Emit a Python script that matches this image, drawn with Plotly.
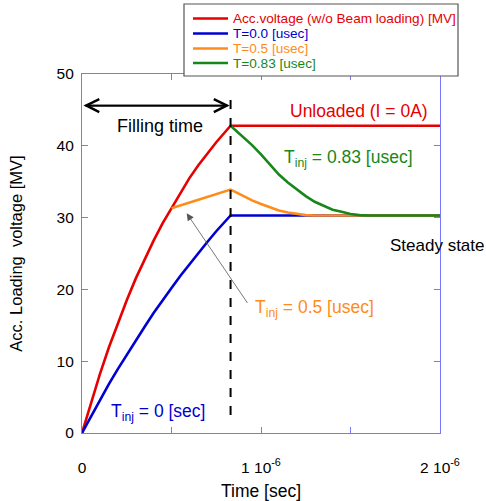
import plotly.graph_objects as go

# ---- data (time in usec, voltage in MV) ----
t_red = [0.0, 0.05, 0.1, 0.15, 0.2, 0.25, 0.3, 0.35, 0.4, 0.45, 0.5, 0.55, 0.6, 0.65,
         0.7, 0.75, 0.83, 2.0]
v_red = [0.0, 4.2, 8.2, 11.9, 15.3, 18.5, 21.5, 24.2, 26.8, 29.2, 31.3, 33.5, 35.5, 37.3,
         38.9, 40.5, 42.8, 42.8]

t_blue = [0.0, 0.05, 0.1, 0.15, 0.2, 0.25, 0.3, 0.35, 0.4, 0.45, 0.5, 0.55, 0.6, 0.65,
          0.7, 0.75, 0.83, 2.0]
v_blue = [0.0, 2.3, 4.6, 6.8, 8.9, 10.9, 12.9, 14.8, 16.7, 18.5, 20.2, 21.9, 23.5, 25.1,
          26.6, 28.1, 30.3, 30.3]

t_orange = [0.5, 0.6, 0.7, 0.83, 0.87, 0.9, 0.95, 1.0, 1.05, 1.1, 1.15, 1.2, 1.25, 1.3, 2.0]
v_orange = [31.3, 32.1, 32.9, 33.9, 33.4, 33.0, 32.4, 31.9, 31.4, 31.0, 30.7, 30.5, 30.35,
            30.3, 30.3]

t_green = [0.83, 0.87, 0.9, 0.95, 1.0, 1.05, 1.1, 1.15, 1.2, 1.25, 1.3, 1.35, 1.4, 1.45,
           1.5, 1.55, 1.6, 2.0]
v_green = [42.8, 41.9, 41.3, 40.1, 38.8, 37.4, 36.0, 34.9, 33.9, 33.0, 32.2, 31.6, 31.1,
           30.8, 30.5, 30.35, 30.3, 30.3]

series_names = ["Acc.voltage (w/o Beam loading) [MV]", "T=0.0 [usec]",
                "T=0.5 [usec]", "T=0.83 [usec]"]
series_colors = ["#e60000", "#0000d0", "#ff8c1a", "#17871a"]

x_tickvals = [0, 1e-6, 2e-6]
x_ticktext = ["0", "1 10<sup>-6</sup>", "2 10<sup>-6</sup>"]
y_tickvals = [0, 10, 20, 30, 40, 50]

t_fill = 0.83  # usec
US = 1e-6
AX = "#7878ff"
FONT = "Liberation Sans, Arial, sans-serif"

fig = go.Figure()
data_sets = [(t_red, v_red), (t_blue, v_blue), (t_orange, v_orange), (t_green, v_green)]
for (tt, vv), nm, col in zip(data_sets, series_names, series_colors):
    fig.add_trace(go.Scatter(x=[t * US for t in tt], y=vv, mode="lines", name=nm,
                             line=dict(color=col, width=2.6),
                             showlegend=False, hoverinfo="skip"))

fig.update_layout(
    width=486, height=501,
    margin=dict(l=82, r=46, t=74, b=68),
    paper_bgcolor="white", plot_bgcolor="white",
    font=dict(family=FONT, size=15, color="black"),
    xaxis=dict(range=[0, 2e-6], tickvals=x_tickvals, ticktext=x_ticktext, automargin=False,
               showgrid=False, zeroline=False, showline=True, linecolor=AX, linewidth=1.2,
               mirror="ticks", ticks="inside", tickcolor=AX, ticklen=6, tickwidth=1.2,
               minor=dict(dtick=0.5e-6, tick0=0, ticks="inside", ticklen=6, tickcolor=AX,
                          tickwidth=1.2, showgrid=False),
               ticklabelstandoff=20, tickfont=dict(size=15.5),
               title=dict(text="Time [sec]", font=dict(size=17.5), standoff=11)),
    yaxis=dict(range=[0, 50], tickvals=y_tickvals, automargin=False,
               showgrid=False, zeroline=False, showline=True, linecolor=AX, linewidth=1.2,
               mirror="ticks", ticks="inside", tickcolor=AX, ticklen=6, tickwidth=1.2,
               ticklabelstandoff=4, tickfont=dict(size=15.5),
               title=dict(text="Acc. Loading  voltage [MV]", font=dict(size=16.5), standoff=29)),
)

# dashed filling-time line
fig.add_shape(type="line", x0=t_fill * US, x1=t_fill * US, y0=2.5, y1=47.4,
              line=dict(color="black", width=2, dash="dash"))

# double arrow "Filling time"
for xa, xb in [(0.01 * US, t_fill * US - 0.005 * US), (t_fill * US - 0.01 * US, 0.008 * US)]:
    fig.add_annotation(x=xb, y=45.6, ax=xa, ay=45.6,
                       xref="x", yref="y", axref="x", ayref="y",
                       showarrow=True, arrowhead=5, arrowsize=1.6, arrowwidth=1.6,
                       arrowcolor="black", text="")
fig.add_annotation(x=0.438 * US, y=42.8, text="Filling time", showarrow=False,
                   font=dict(size=18, color="black"))

fig.add_annotation(x=1.547 * US, y=44.9, text="Unloaded (I = 0A)", showarrow=False,
                   font=dict(size=17.5, color=series_colors[0]))
fig.add_annotation(x=1.49 * US, y=38.2, text="T<sub>inj</sub> = 0.83 [usec]", showarrow=False,
                   font=dict(size=17.5, color=series_colors[3]))
fig.add_annotation(x=1.71 * US, y=26.1, text="Steady state", showarrow=False,
                   xanchor="left", font=dict(size=17, color="black"))
fig.add_annotation(x=1.3 * US, y=17.4, text="T<sub>inj</sub> = 0.5 [usec]", showarrow=False,
                   font=dict(size=17.5, color=series_colors[2]))
fig.add_annotation(x=0.427 * US, y=2.9, text="T<sub>inj</sub> = 0 [sec]", showarrow=False,
                   font=dict(size=17.5, color=series_colors[1]))
# thin pointer arrow
fig.add_annotation(x=0.585 * US, y=30.6, ax=0.93 * US, ay=17.9,
                   xref="x", yref="y", axref="x", ayref="y",
                   showarrow=True, arrowhead=2, arrowsize=1.8, arrowwidth=0.8,
                   arrowcolor="#555555", text="")

# legend box (manual)
lx0, lx1, ly0, ly1 = 184, 458, 4, 76
pl, pr, pt, pb = 82, 440, 74, 433
def px(x):
    return (x - pl) / (pr - pl)
def py(y):
    return (pb - y) / (pb - pt)
fig.add_shape(type="rect", xref="paper", yref="paper",
              x0=px(lx0), x1=px(lx1), y0=py(ly1), y1=py(ly0),
              line=dict(color="#555555", width=1.2), fillcolor="white", layer="above")
row_y = [18.5, 33.5, 48.5, 63]
for ry, nm, col in zip(row_y, series_names, series_colors):
    fig.add_shape(type="line", xref="paper", yref="paper",
                  x0=px(193), x1=px(228), y0=py(ry), y1=py(ry),
                  line=dict(color=col, width=2.4), layer="above")
    fig.add_annotation(xref="paper", yref="paper", x=px(231), y=py(ry), text=nm,
                       showarrow=False, xanchor="left", yanchor="middle",
                       font=dict(size=13.6, color=col))

fig.write_html("out.html", config={"displayModeBar": False},
               post_script="document.body.style.margin='0';document.body.style.overflow='hidden';")
